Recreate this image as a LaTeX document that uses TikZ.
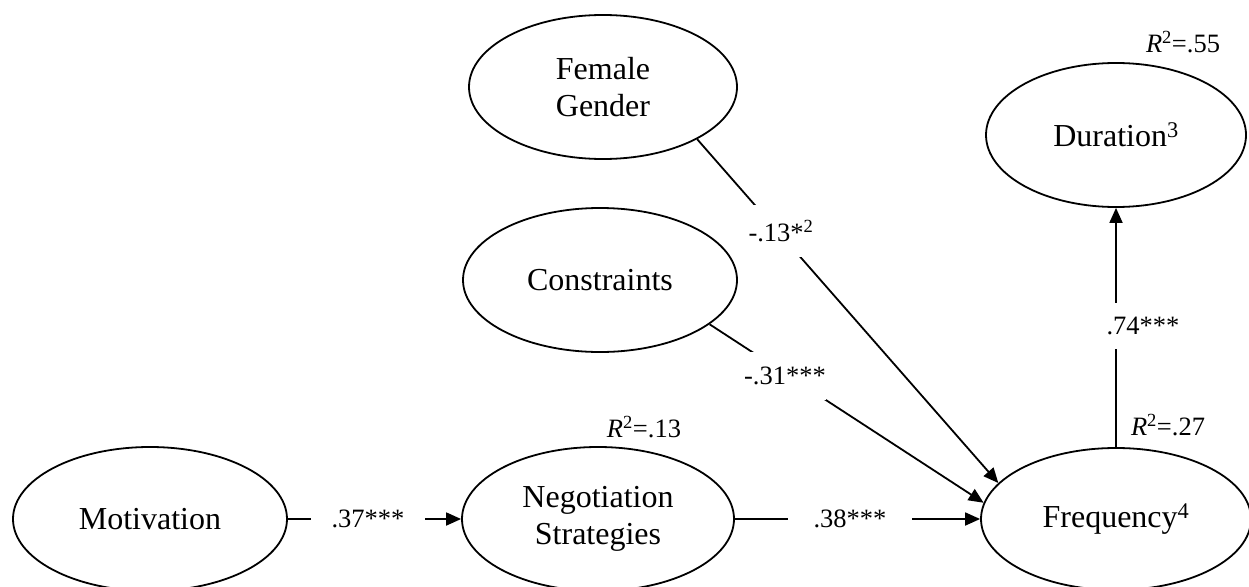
\documentclass[tikz,border=0pt]{standalone}
\usepackage{fontspec}
\setmainfont{Liberation Serif}
\usetikzlibrary{shapes.geometric,arrows.meta}
\begin{document}
\begin{tikzpicture}[x=1pt,y=-1pt,
  var/.style={draw,ellipse,line width=1.8pt,inner sep=0pt,align=center,
    font=\fontsize{32}{37}\selectfont},
  link/.style={line width=1.8pt},
  arr/.style={link,-{Triangle[length=15pt,width=13pt]}},
  coef/.style={fill=white,inner xsep=0pt,font=\fontsize{26.5}{30}\selectfont},
  rsq/.style={inner sep=0pt,font=\fontsize{26.5}{30}\selectfont}]
\useasboundingbox (0,0) rectangle (1249,586);
% variables
\node[var,minimum width=268pt,minimum height=144pt] (fem)  at (603,87)   {Female\\Gender};
\node[var,minimum width=274pt,minimum height=144pt] (con)  at (600,280)  {Constraints};
\node[var,minimum width=274pt,minimum height=144pt] (mot)  at (150,519)  {Motivation};
\node[var,minimum width=272pt,minimum height=144pt] (neg)  at (598,519)  {Negotiation\\Strategies};
\node[var,minimum width=270pt,minimum height=142pt] (freq) at (1116,519) {Frequency\textsuperscript{4}};
\node[var,minimum width=260pt,minimum height=144pt] (dur)  at (1116,135) {Duration\textsuperscript{3}};
% paths
\draw[arr] (mot.east) -- (neg.west);
\draw[arr] (neg.east) -- (freq.west);
\draw[arr] (fem.-29) -- (freq.163);
\draw[arr] (con.-22) -- (freq.173);
\draw[arr] (freq.north) -- (dur.south);
% coefficients
\node[coef,inner xsep=21pt] (c37) at (368,519) {.37***};
\node[coef,inner xsep=26pt] (c38) at (850,519) {.38***};
\node[coef,inner ysep=15pt] (c13) at (781,231) {-.13*\textsuperscript{2}};
\node[coef,inner ysep=15.5pt] (c31) at (785,376) {-.31***};
\node[coef,inner ysep=14.5pt] (c74) at (1143,326) {.74***};
% explained variance
\node[rsq] (r13) at (644,427)  {\textit{R}\textsuperscript{2}=.13};
\node[rsq] (r27) at (1168,425) {\textit{R}\textsuperscript{2}=.27};
\node[rsq] (r55) at (1183,42)  {\textit{R}\textsuperscript{2}=.55};
\end{tikzpicture}
\end{document}
